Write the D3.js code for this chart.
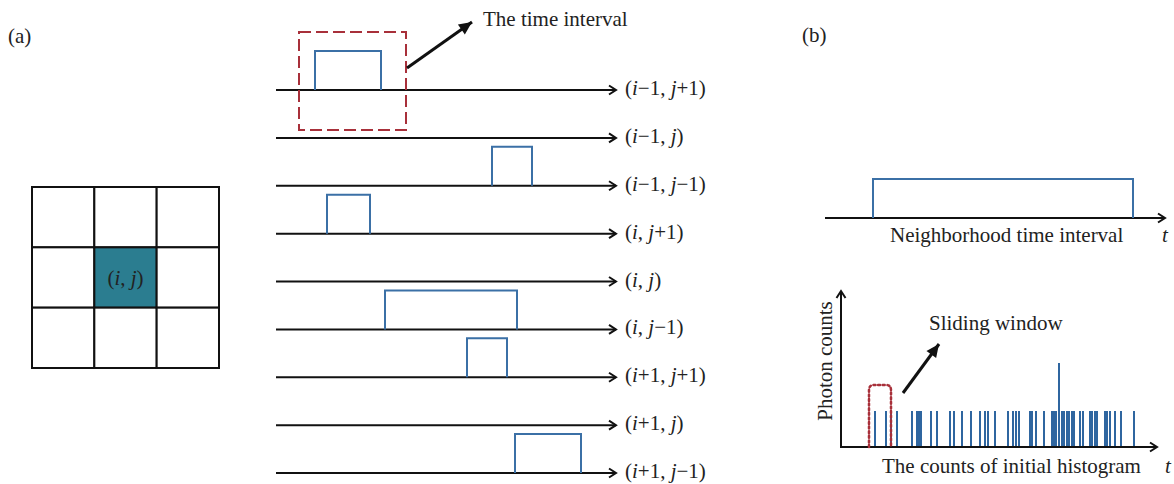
<!DOCTYPE html>
<html>
<head>
<meta charset="utf-8">
<script src="https://cdn.jsdelivr.net/npm/d3@7"></script>
<style>
  body { margin: 0; background: #fff; }
  text { font-family: "Liberation Serif", "DejaVu Serif", serif; fill: #222; }
</style>
</head>
<body>
<div id="chart"></div>
<script>
// ---- data ----
const channels = ["(i\u22121, j+1)", "(i\u22121, j)", "(i\u22121, j\u22121)", "(i, j+1)", "(i, j)",
  "(i, j\u22121)", "(i+1, j+1)", "(i+1, j)", "(i+1, j\u22121)"]
const pulseChannel = [0, 2, 3, 5, 6, 8]
const pulseStart = [39, 216, 51, 109, 191, 239]
const pulseEnd = [105, 256, 94, 241, 231, 305]

const neighborhoodStart = 32
const neighborhoodEnd = 292

const photonTimes = [34, 45, 50, 56, 71, 76, 78, 80, 90, 96, 109, 113, 121, 130, 139, 144, 147, 154,
  167, 172, 175, 178, 189, 191, 195, 203, 211, 213, 214, 215, 218, 221, 223, 226, 228, 231, 233,
  239, 242, 249, 251, 254, 256, 264, 266, 269, 274, 280, 293]
const photonCounts = photonTimes.map(t => t === 218 ? 7 : 3)
const windowStart = 28
const windowEnd = 50

const width = 1174
const height = 484
const blue = "#3b70a6"
const red = "#a8303a"

const svg = d3.select("#chart").append("svg")
  .attr("width", width)
  .attr("height", height)

svg.append("rect").attr("width", width).attr("height", height).attr("fill", "#fff")

const defs = svg.append("defs")
defs.append("marker")
  .attr("id", "chev")
  .attr("markerUnits", "userSpaceOnUse")
  .attr("viewBox", "-10 -6 12 12")
  .attr("refX", 0).attr("refY", 0)
  .attr("markerWidth", 12).attr("markerHeight", 12)
  .attr("orient", "auto")
  .append("path")
  .attr("d", "M-7,-4.5 L0,0 L-7,4.5")
  .attr("fill", "none")
  .attr("stroke", "#111")
  .attr("stroke-width", 2)
defs.append("marker")
  .attr("id", "tri")
  .attr("markerUnits", "userSpaceOnUse")
  .attr("viewBox", "-14 -7 16 14")
  .attr("refX", 0).attr("refY", 0)
  .attr("markerWidth", 16).attr("markerHeight", 14)
  .attr("orient", "auto")
  .append("path")
  .attr("d", "M-13,-6 L0,0 L-13,6 Z")
  .attr("fill", "#111")

// label with italic i / j
function mathLabel(sel, str) {
  str.split(/([ij])/).filter(s => s.length).forEach(s => {
    sel.append("tspan")
      .style("font-style", s === "i" || s === "j" ? "italic" : "normal")
      .text(s)
  })
}

// ---- (a) grid ----
svg.append("text").attr("x", 8).attr("y", 43).attr("font-size", 21).text("(a)")

const gx = d3.scaleLinear().domain([0, 3]).range([32, 219])
const gy = d3.scaleLinear().domain([0, 3]).range([187, 368])
const cells = d3.cross(d3.range(3), d3.range(3))

svg.append("g").selectAll("rect")
  .data(cells)
  .join("rect")
  .attr("x", d => gx(d[0]))
  .attr("y", d => gy(d[1]))
  .attr("width", gx(1) - gx(0))
  .attr("height", gy(1) - gy(0))
  .attr("fill", d => d[0] === 1 && d[1] === 1 ? "#2b7d90" : "#fff")
  .attr("stroke", "#111")
  .attr("stroke-width", 2)

mathLabel(svg.append("text")
  .attr("x", gx(1.5)).attr("y", gy(1.5) + 7)
  .attr("text-anchor", "middle").attr("font-size", 21), "(i, j)")

// ---- (a) timelines ----
const tx = d3.scaleLinear().domain([0, 340]).range([276, 616])
const ty = d3.scalePoint().domain(d3.range(channels.length)).range([90, 473])
const amp = 39

svg.append("g").selectAll("line")
  .data(channels)
  .join("line")
  .attr("x1", tx(0)).attr("x2", tx(340))
  .attr("y1", (d, i) => ty(i)).attr("y2", (d, i) => ty(i))
  .attr("stroke", "#111").attr("stroke-width", 2)
  .attr("marker-end", "url(#chev)")

svg.append("g").selectAll("text")
  .data(channels)
  .join("text")
  .attr("x", tx(340) + 9)
  .attr("y", (d, i) => ty(i) + 5)
  .attr("font-size", 21)
  .each(function(d) { mathLabel(d3.select(this), d) })

svg.append("g").selectAll("path")
  .data(pulseChannel)
  .join("path")
  .attr("d", (c, k) => {
    const y0 = ty(c), y1 = ty(c) - amp
    return "M" + tx(pulseStart[k]) + "," + y0 + "V" + y1 + "H" + tx(pulseEnd[k]) + "V" + y0
  })
  .attr("fill", "none").attr("stroke", blue).attr("stroke-width", 2)

// dashed box round the first pulse
const bx0 = tx(pulseStart[0]) - 16, bx1 = tx(pulseEnd[0]) + 25
svg.append("rect")
  .attr("x", bx0).attr("y", ty(0) - amp - 19)
  .attr("width", bx1 - bx0).attr("height", 98)
  .attr("fill", "none").attr("stroke", red).attr("stroke-width", 2)
  .attr("stroke-dasharray", "12,5")

svg.append("line")
  .attr("x1", bx1 + 1).attr("y1", 68).attr("x2", 472).attr("y2", 22)
  .attr("stroke", "#111").attr("stroke-width", 3)
  .attr("marker-end", "url(#tri)")

svg.append("text").attr("x", 483).attr("y", 26).attr("font-size", 21).text("The time interval")

// ---- (b) ----
svg.append("text").attr("x", 802).attr("y", 42).attr("font-size", 21).text("(b)")

const hx = d3.scaleLinear().domain([0, 310]).range([841, 1151])
const hy = d3.scaleLinear().domain([0, 13]).range([447, 291])

// neighborhood time interval
const ny = 218
svg.append("line")
  .attr("x1", hx(-16)).attr("x2", hx(324)).attr("y1", ny).attr("y2", ny)
  .attr("stroke", "#111").attr("stroke-width", 2)
  .attr("marker-end", "url(#chev)")
svg.append("path")
  .attr("d", "M" + hx(neighborhoodStart) + "," + ny + "V" + (ny - amp) +
    "H" + hx(neighborhoodEnd) + "V" + ny)
  .attr("fill", "none").attr("stroke", blue).attr("stroke-width", 2)
svg.append("text").attr("x", 890).attr("y", 242).attr("font-size", 21).text("Neighborhood time interval")
svg.append("text").attr("x", 1162).attr("y", 242).attr("font-size", 21)
  .style("font-style", "italic").text("t")

// histogram
svg.append("g").selectAll("line")
  .data(photonTimes)
  .join("line")
  .attr("x1", d => hx(d)).attr("x2", d => hx(d))
  .attr("y1", hy(0)).attr("y2", (d, i) => hy(photonCounts[i]))
  .attr("stroke", "#2f66a0").attr("stroke-width", 2)

svg.append("line")
  .attr("x1", hx(0)).attr("x2", hx(0)).attr("y1", hy(0) + 1).attr("y2", hy(13))
  .attr("stroke", "#111").attr("stroke-width", 2)
  .attr("marker-end", "url(#chev)")
svg.append("line")
  .attr("x1", hx(0) - 1).attr("x2", hx(316)).attr("y1", hy(0)).attr("y2", hy(0))
  .attr("stroke", "#111").attr("stroke-width", 2)
  .attr("marker-end", "url(#chev)")

// sliding window
const wTop = 385, r = 5
svg.append("path")
  .attr("d", "M" + hx(windowStart) + "," + hy(0) + "V" + (wTop + r) +
    "Q" + hx(windowStart) + "," + wTop + " " + (hx(windowStart) + r) + "," + wTop +
    "H" + (hx(windowEnd) - r) +
    "Q" + hx(windowEnd) + "," + wTop + " " + hx(windowEnd) + "," + (wTop + r) +
    "V" + hy(0))
  .attr("fill", "none").attr("stroke", red).attr("stroke-width", 2.5)
  .attr("stroke-dasharray", "2,2.6").attr("stroke-linecap", "round")

svg.append("line")
  .attr("x1", 903).attr("y1", 393).attr("x2", 939).attr("y2", 344)
  .attr("stroke", "#111").attr("stroke-width", 3)
  .attr("marker-end", "url(#tri)")

svg.append("text").attr("x", 929).attr("y", 330).attr("font-size", 21).text("Sliding window")
svg.append("text")
  .attr("transform", "translate(832,361) rotate(-90)")
  .attr("text-anchor", "middle").attr("font-size", 21).text("Photon counts")
svg.append("text").attr("x", 882).attr("y", 473).attr("font-size", 21).text("The counts of initial histogram")
svg.append("text").attr("x", 1165).attr("y", 473).attr("font-size", 21)
  .style("font-style", "italic").text("t")
</script>
</body>
</html>
